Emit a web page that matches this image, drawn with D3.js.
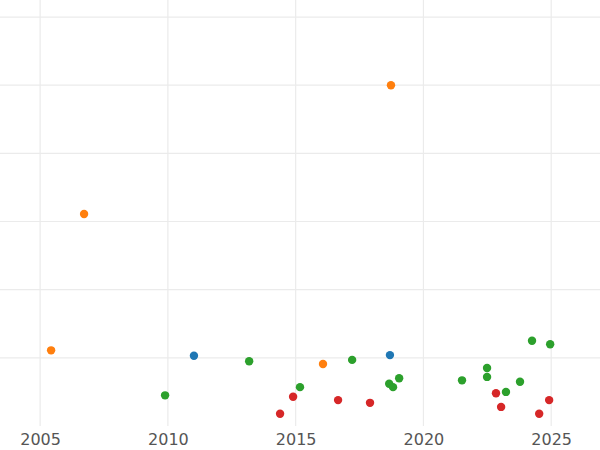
<!DOCTYPE html>
<html><head><meta charset="utf-8">
<script src="https://cdn.jsdelivr.net/npm/d3@7"></script>
<style>body{margin:0;background:#fff}</style></head>
<body><svg width="600" height="450"></svg>
<script>
const xTicks=[2005,2010,2015,2020,2025];
const yGrid=[1,2,3,4,5,6];
const orangeX=[2005.43,2006.72,2016.07,2018.73], orangeY=[1.11,3.11,0.91,5.0];
const blueX=[2011.02,2018.69], blueY=[1.03,1.04];
const greenX=[2009.89,2013.18,2015.17,2017.21,2018.66,2018.81,2019.05,2021.51,2022.49,2022.49,2023.23,2023.78,2024.25,2024.96];
const greenY=[0.45,0.95,0.57,0.97,0.62,0.57,0.70,0.67,0.85,0.72,0.50,0.65,1.25,1.20];
const redX=[2014.39,2014.90,2016.66,2017.91,2022.84,2023.04,2024.53,2024.92];
const redY=[0.18,0.43,0.38,0.34,0.48,0.28,0.18,0.38];
const series=[[blueX,blueY,"#1f77b4"],[orangeX,orangeY,"#ff7f0e"],[greenX,greenY,"#2ca02c"],[redX,redY,"#d62728"]];
const svg=d3.select("svg");
const x=d3.scaleLinear().domain([2003.43,2026.91]).range([0,600]);
const y=d3.scaleLinear().domain([0,6.25]).range([426,0]);
svg.append("g").selectAll("line").data(yGrid).join("line")
 .attr("x1",0).attr("x2",600).attr("y1",d=>y(d)).attr("y2",d=>y(d)).attr("stroke","#ebebeb").attr("stroke-width",1.2);
svg.append("g").selectAll("line").data(xTicks).join("line")
 .attr("x1",d=>x(d)).attr("x2",d=>x(d)).attr("y1",0).attr("y2",426).attr("stroke","#ebebeb").attr("stroke-width",1.2);
const ax=svg.append("g").attr("transform","translate(0,426)").call(d3.axisBottom(x).tickValues(xTicks).tickFormat(d3.format("d")).tickSize(0).tickPadding(8));
ax.select(".domain").remove();
ax.selectAll("text").attr("font-family","DejaVu Sans").attr("font-size",16).attr("fill","#555");
series.forEach(([xs,ys,c])=>{
 svg.append("g").selectAll("circle").data(xs.map((d,i)=>[d,ys[i]])).join("circle")
  .attr("cx",d=>x(d[0])).attr("cy",d=>y(d[1])).attr("r",4.2).attr("fill",c);
});
</script></body></html>
